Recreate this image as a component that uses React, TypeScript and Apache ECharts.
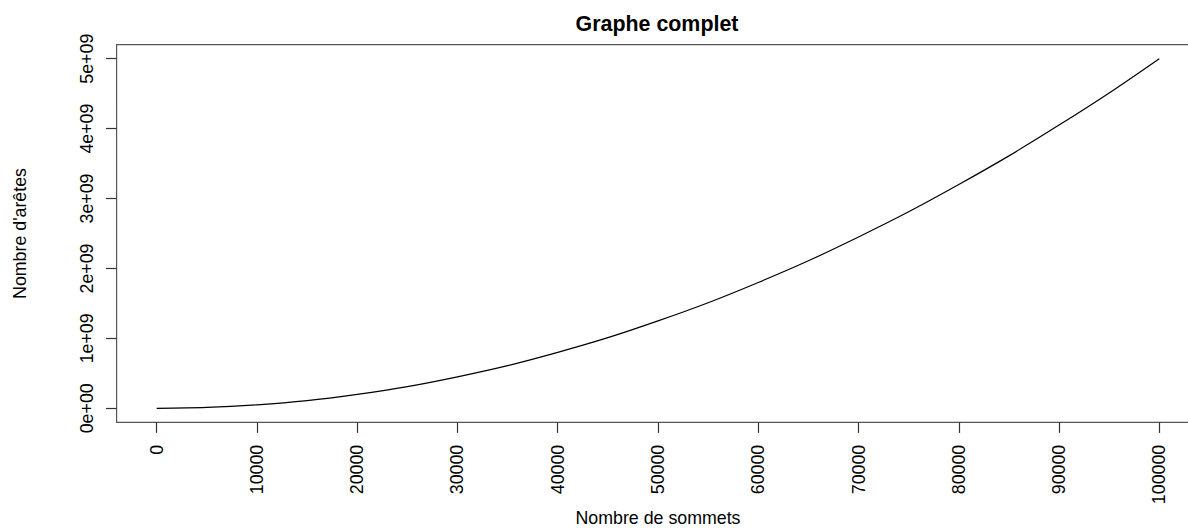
import React, { useEffect, useRef } from "react";
import * as echarts from "echarts";

const vertices = [0, 5000, 10000, 15000, 20000, 25000, 30000, 35000, 40000, 45000, 50000, 55000, 60000, 65000, 70000, 75000, 80000, 85000, 90000, 95000, 100000];
const edgesBillions = [0, 0.0125, 0.05, 0.11, 0.2, 0.31, 0.45, 0.61, 0.8, 1.01, 1.25, 1.51, 1.8, 2.11, 2.45, 2.81, 3.2, 3.61, 4.05, 4.51, 5.0];
const xTicks = [0, 10000, 20000, 30000, 40000, 50000, 60000, 70000, 80000, 90000, 100000];
const yTicks = [0, 1e9, 2e9, 3e9, 4e9, 5e9];
const yTickLabels = ["0e+00", "1e+09", "2e+09", "3e+09", "4e+09", "5e+09"];

const FONT = "'Liberation Sans', Arial, sans-serif";

export default function App() {
  const ref = useRef<HTMLDivElement>(null);
  useEffect(() => {
    if (!ref.current) return;
    const chart = echarts.init(ref.current, null, { renderer: "svg" });
    const data = vertices.map((v, i) => [v, edgesBillions[i] * 1e9]);
    chart.setOption({
      animation: false,
      backgroundColor: "#ffffff",
      grid: {
        left: 116.6,
        top: 44.7,
        width: 1082.8,
        height: 377.6,
        outerBoundsMode: "none",
        containLabel: false,
        show: true,
        borderColor: "#555555",
        borderWidth: 1.2,
        backgroundColor: "transparent",
      },
      graphic: [
        {
          type: "text",
          x: 657,
          y: 23.5,
          style: {
            text: "Graphe complet",
            font: `bold 21.4px ${FONT}`,
            fill: "#000",
            textAlign: "center",
            textVerticalAlign: "middle",
          },
        },
      ],
      xAxis: {
        type: "value",
        min: -4000,
        max: 104000,
        splitLine: { show: false },
        axisLine: { show: false, onZero: false },
        axisTick: {
          show: true,
          customValues: xTicks,
          length: 10.6,
          lineStyle: { color: "#333333", width: 1.2 },
        },
        axisLabel: {
          customValues: xTicks,
          rotate: 90,
          margin: 22.5,
          fontSize: 17.8,
          fontFamily: FONT,
          color: "#000",
          formatter: (v: number) => String(v),
        },
        name: "Nombre de sommets",
        nameLocation: "middle",
        nameGap: 86.8,
        nameMoveOverlap: false,
        nameTextStyle: { fontSize: 17.8, lineHeight: 18, fontFamily: FONT, color: "#000" },
      },
      yAxis: {
        type: "value",
        min: -0.2e9,
        max: 5.2e9,
        splitLine: { show: false },
        axisLine: { show: false, onZero: false },
        axisTick: {
          show: true,
          customValues: yTicks,
          length: 10.6,
          lineStyle: { color: "#333333", width: 1.2 },
        },
        axisLabel: {
          customValues: yTicks,
          rotate: 90,
          margin: 21,
          fontSize: 17.8,
          fontFamily: FONT,
          color: "#000",
          formatter: (v: number) => {
            const i = yTicks.indexOf(v);
            return i >= 0 ? yTickLabels[i] : "";
          },
        },
        name: "Nombre d'arêtes",
        nameLocation: "middle",
        nameGap: 87.7,
        nameMoveOverlap: false,
        nameTextStyle: { fontSize: 17.8, fontFamily: FONT, color: "#000" },
      },
      series: [
        {
          type: "line",
          data,
          smooth: 0.3,
          showSymbol: false,
          symbol: "none",
          lineStyle: { color: "#000", width: 1.2 },
        },
      ],
    });
    return () => chart.dispose();
  }, []);
  return (
    <div
      ref={ref}
      style={{ position: "fixed", left: 0, top: 0, width: 1188, height: 528 }}
    />
  );
}
